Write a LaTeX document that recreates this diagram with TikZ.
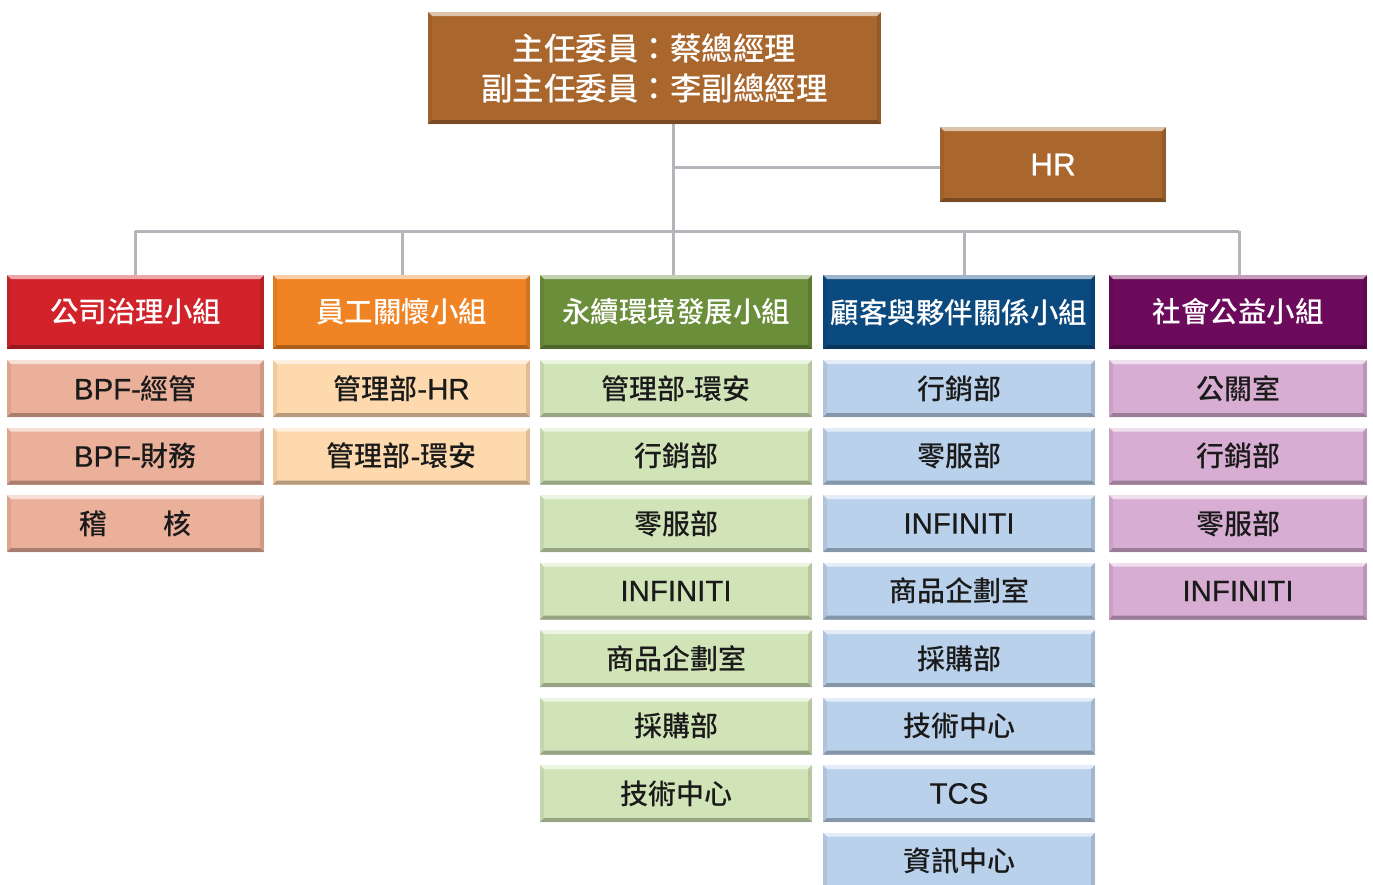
\documentclass[tikz,border=0pt]{standalone}
\usepackage{fontspec}
\setmainfont{Noto Sans CJK TC}[UprightFont=* Medium]
\newfontfamily\ar{Liberation Sans}[FakeBold=0.6,Scale=1.05]
\definecolor{cBrown}{HTML}{A9672E}
\definecolor{cRed}{HTML}{D2232A}
\definecolor{cRedL}{HTML}{EBB09A}
\definecolor{cOra}{HTML}{F08324}
\definecolor{cOraL}{HTML}{FDD9AD}
\definecolor{cGrn}{HTML}{6B8E3A}
\definecolor{cGrnL}{HTML}{D1E4B8}
\definecolor{cBlu}{HTML}{0B4A7F}
\definecolor{cBluL}{HTML}{BAD1EB}
\definecolor{cPur}{HTML}{6C0A5B}
\definecolor{cPurL}{HTML}{D8ADD3}
\definecolor{cLine}{HTML}{B4B4BA}
\definecolor{cTxt}{HTML}{1A1A1A}
\tikzset{
  bevel/.style={path picture={
    \fill[white,opacity=0.6] (path picture bounding box.north west) -- (path picture bounding box.north east)
      -- ([xshift=-4pt,yshift=-4pt]path picture bounding box.north east) -- ([xshift=4pt,yshift=-4pt]path picture bounding box.north west) -- cycle;
    \fill[black,opacity=0.28] (path picture bounding box.south west) -- (path picture bounding box.south east)
      -- ([xshift=-4pt,yshift=4pt]path picture bounding box.south east) -- ([xshift=4pt,yshift=4pt]path picture bounding box.south west) -- cycle;
    \fill[black,opacity=0.12] (path picture bounding box.north east) -- (path picture bounding box.south east)
      -- ([xshift=-4pt,yshift=4pt]path picture bounding box.south east) -- ([xshift=-4pt,yshift=-4pt]path picture bounding box.north east) -- cycle;
    \fill[black,opacity=0.06] (path picture bounding box.north west) -- (path picture bounding box.south west)
      -- ([xshift=4pt,yshift=4pt]path picture bounding box.south west) -- ([xshift=4pt,yshift=-4pt]path picture bounding box.north west) -- cycle;
  }},
  box/.style={bevel, inner sep=0pt, outer sep=0pt, align=center},
  topbox/.style={box, fill=cBrown, text=white, minimum width=453pt, minimum height=112pt, font=\fontsize{31.5}{40}\selectfont},
  hrbox/.style={box, fill=cBrown, text=white, minimum width=226pt, minimum height=75pt, font=\fontsize{30}{34}\selectfont},
  head/.style={box, text=white, minimum height=74pt, font=\fontsize{28.5}{34}\selectfont},
  sub/.style={box, text=cTxt, minimum height=57pt, font=\fontsize{28}{34}\selectfont},
  c1/.style={minimum width=257pt}, c2/.style={minimum width=257pt}, c3/.style={minimum width=272pt},
  c4/.style={minimum width=272pt}, c5/.style={minimum width=258pt},
  conn/.style={draw=cLine, line width=3pt}
}
\begin{document}
\begin{tikzpicture}[x=1pt,y=-1pt]
\useasboundingbox (0,0) rectangle (1373,884);
\clip (0,0) rectangle (1373,884);
% connector coordinates
\coordinate (j) at (673,231);
\coordinate (d1) at (135,231);
\coordinate (d2) at (402,231);
\coordinate (d4) at (964,231);
\coordinate (d5) at (1239,231);
% top
\node[topbox] (top) at (654.5,68) {主任委員：蔡總經理\\副主任委員：李副總經理};
\node[hrbox] (hr) at (1053,164.5) {\ar HR};
% headers
\node[head,c1,fill=cRed] (g1) at (135.5,312) {公司治理小組};
\node[head,c2,fill=cOra] (g2) at (401.5,312) {員工關懷小組};
\node[head,c3,fill=cGrn] (g3) at (676,312) {永續環境發展小組};
\node[head,c4,fill=cBlu] (g4) at (959,312) {顧客與夥伴關係小組};
\node[head,c5,fill=cPur] (g5) at (1238,312) {社會公益小組};
% connectors
\draw[conn] (top.south -| j) -- (j);
\draw[conn] ([yshift=-3pt]hr.west) -- ([yshift=-3pt]hr.west -| j);
\draw[conn] (d1) -- (d5);
\draw[conn] (d1) -- (d1 |- g1.north);
\draw[conn] (d2) -- (d2 |- g2.north);
\draw[conn] (j) -- (j |- g3.north);
\draw[conn] (d4) -- (d4 |- g4.north);
\draw[conn] (d5) -- (d5 |- g5.north);
% column 1
\node[sub,c1,fill=cRedL] (a1) at (135.5,388.5) {{\ar BPF-}經管};
\node[sub,c1,fill=cRedL] (a2) at (135.5,456) {{\ar BPF-}財務};
\node[sub,c1,fill=cRedL] (a3) at (135.5,523.5) {稽\hspace{2em}核};
% column 2
\node[sub,c2,fill=cOraL] (b1) at (401.5,388.5) {管理部{\ar -HR}};
\node[sub,c2,fill=cOraL] (b2) at (401.5,456) {管理部{\ar -}環安};
% column 3
\node[sub,c3,fill=cGrnL] (e1) at (676,388.5) {管理部{\ar -}環安};
\node[sub,c3,fill=cGrnL] (e2) at (676,456) {行銷部};
\node[sub,c3,fill=cGrnL] (e3) at (676,523.5) {零服部};
\node[sub,c3,fill=cGrnL] (e4) at (676,591) {\ar INFINITI};
\node[sub,c3,fill=cGrnL] (e5) at (676,658.5) {商品企劃室};
\node[sub,c3,fill=cGrnL] (e6) at (676,726) {採購部};
\node[sub,c3,fill=cGrnL] (e7) at (676,793.5) {技術中心};
% column 4
\node[sub,c4,fill=cBluL] (f1) at (959,388.5) {行銷部};
\node[sub,c4,fill=cBluL] (f2) at (959,456) {零服部};
\node[sub,c4,fill=cBluL] (f3) at (959,523.5) {\ar INFINITI};
\node[sub,c4,fill=cBluL] (f4) at (959,591) {商品企劃室};
\node[sub,c4,fill=cBluL] (f5) at (959,658.5) {採購部};
\node[sub,c4,fill=cBluL] (f6) at (959,726) {技術中心};
\node[sub,c4,fill=cBluL] (f7) at (959,793.5) {\ar TCS};
\node[sub,c4,fill=cBluL] (f8) at (959,861) {資訊中心};
% column 5
\node[sub,c5,fill=cPurL] (h1) at (1238,388.5) {公關室};
\node[sub,c5,fill=cPurL] (h2) at (1238,456) {行銷部};
\node[sub,c5,fill=cPurL] (h3) at (1238,523.5) {零服部};
\node[sub,c5,fill=cPurL] (h4) at (1238,591) {\ar INFINITI};
\end{tikzpicture}
\end{document}
